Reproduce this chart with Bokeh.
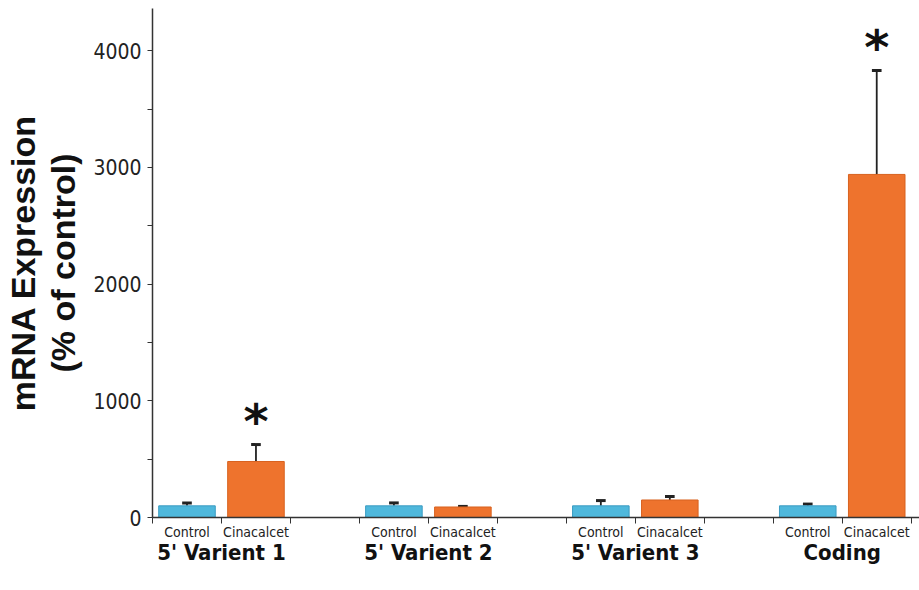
import numpy as np
from bokeh.plotting import figure
from bokeh.models import ColumnDataSource, FixedTicker, LinearAxis, Range1d
from bokeh.core.properties import value
from bokeh.embed import file_html
from bokeh.resources import INLINE

# --- data -------------------------------------------------------------
groups = ["5' Varient 1", "5' Varient 2", "5' Varient 3", "Coding"]
treatments = ["Control", "Cinacalcet"]
control_mean = [100, 100, 100, 100]
control_err = [25, 25, 45, 15]
cinacalcet_mean = [480, 90, 150, 2940]
cinacalcet_err = [145, 5, 30, 890]
significant = [True, False, False, True]

y_ticks = [0, 1000, 2000, 3000, 4000]
y_minor = [500, 1500, 2500, 3500]
y_title = ["mRNA Expression", "(% of control)"]

# --- layout: each group takes three slots (control, cinacalcet, gap) ---
ctrl_x = [3 * i + 0.5 for i in range(len(groups))]
cin_x = [3 * i + 1.5 for i in range(len(groups))]
group_x = [3 * i + 1.0 for i in range(len(groups))]
boundaries = list(range(0, 3 * len(groups)))

NARROW = "'Liberation Sans Narrow', 'DejaVu Sans Condensed', 'Arial Narrow', sans-serif"
BOLD_SANS = "'Liberation Sans', Arial, sans-serif"

p = figure(width=919, height=590, output_backend="svg", toolbar_location=None,
           x_range=Range1d(0, 11.12), y_range=Range1d(0, 4362),
           min_border_left=152, min_border_right=0, min_border_top=8,
           min_border_bottom=73, x_axis_type=None, y_axis_type=None)
p.outline_line_color = None
p.xgrid.visible = False
p.ygrid.visible = False
p.background_fill_color = "white"
p.border_fill_color = "white"

ctrl_src = ColumnDataSource(dict(x=ctrl_x, top=control_mean,
                                 upper=[m + e for m, e in zip(control_mean, control_err)]))
cin_src = ColumnDataSource(dict(x=cin_x, top=cinacalcet_mean,
                                upper=[m + e for m, e in zip(cinacalcet_mean, cinacalcet_err)]))

# error bars (upper half only): stem plus cap
for src in (ctrl_src, cin_src):
    p.segment(x0="x", y0="top", x1="x", y1="upper", source=src,
              line_color="#222222", line_width=1.8)
    p.rect(x="x", y="upper", width=0.14, height=3, height_units="screen",
           source=src, fill_color="#222222", line_color=None)

p.vbar(x="x", top="top", bottom=0, width=0.82, source=ctrl_src,
       fill_color="#4fb8dc", line_color="#3a9cc2", line_width=1)
p.vbar(x="x", top="top", bottom=0, width=0.82, source=cin_src,
       fill_color="#ee732d", line_color="#d8621f", line_width=1)

# significance markers
star_x = [cin_x[i] for i in range(len(groups)) if significant[i]]
star_y = [cinacalcet_mean[i] + cinacalcet_err[i] for i in range(len(groups)) if significant[i]]
p.text(x=star_x, y=star_y, text=["*"] * len(star_x), text_align="center",
       text_baseline="bottom", y_offset=4, text_font_size="48px",
       text_font=value("DejaVu Sans"), text_font_style="bold",
       text_color="#111111")

# y axis (inner), carrying the second title line
yaxis = LinearAxis(ticker=FixedTicker(ticks=y_ticks, minor_ticks=y_minor))
yaxis.axis_label = y_title[1]
yaxis.axis_label_text_font = BOLD_SANS
yaxis.axis_label_text_font_style = "bold"
yaxis.axis_label_text_font_size = "34px"
yaxis.axis_label_text_color = "#111111"
yaxis.axis_label_standoff = 8
yaxis.axis_line_color = "#333333"
yaxis.axis_line_width = 1.5
yaxis.major_tick_line_color = "#333333"
yaxis.minor_tick_line_color = "#333333"
yaxis.major_tick_out = 5
yaxis.major_tick_in = 0
yaxis.minor_tick_out = 5
yaxis.minor_tick_in = 0
yaxis.major_label_standoff = 6
yaxis.major_label_text_font = NARROW
yaxis.major_label_text_font_size = "21px"
yaxis.major_label_text_color = "#222222"
p.add_layout(yaxis, "left")

# outer, bare axis carrying the first title line
taxis = LinearAxis(ticker=FixedTicker(ticks=[], minor_ticks=[]))
taxis.axis_label = y_title[0]
taxis.axis_label_text_font = BOLD_SANS
taxis.axis_label_text_font_style = "bold"
taxis.axis_label_text_font_size = "34px"
taxis.axis_label_text_color = "#111111"
taxis.axis_label_standoff = 0
taxis.axis_line_color = None
taxis.major_tick_line_color = None
taxis.minor_tick_line_color = None
taxis.major_tick_out = 0
taxis.minor_tick_out = 0
taxis.major_label_standoff = 0
p.add_layout(taxis, "left")

# x axis: treatment labels at bar centres, ticks at slot boundaries
xaxis = LinearAxis(ticker=FixedTicker(ticks=ctrl_x + cin_x, minor_ticks=boundaries))
xaxis.major_label_overrides = {**{x: treatments[0] for x in ctrl_x},
                               **{x: treatments[1] for x in cin_x}}
xaxis.axis_line_color = "#333333"
xaxis.axis_line_width = 1.5
xaxis.major_tick_out = 0
xaxis.major_tick_in = 0
xaxis.minor_tick_line_color = "#333333"
xaxis.minor_tick_out = 6
xaxis.minor_tick_in = 0
xaxis.major_label_standoff = 0
xaxis.major_label_text_font = NARROW
xaxis.major_label_text_font_size = "14px"
xaxis.major_label_text_color = "#222222"
p.add_layout(xaxis, "below")

# group names
gaxis = LinearAxis(ticker=FixedTicker(ticks=group_x, minor_ticks=[]))
gaxis.major_label_overrides = {x: g for x, g in zip(group_x, groups)}
gaxis.axis_line_color = None
gaxis.major_tick_line_color = None
gaxis.major_tick_out = 0
gaxis.major_label_standoff = -3
gaxis.major_label_text_font = NARROW
gaxis.major_label_text_font_style = "bold"
gaxis.major_label_text_font_size = "22px"
gaxis.major_label_text_color = "#111111"
p.add_layout(gaxis, "below")

open("out.html", "w").write(file_html(p, INLINE))
